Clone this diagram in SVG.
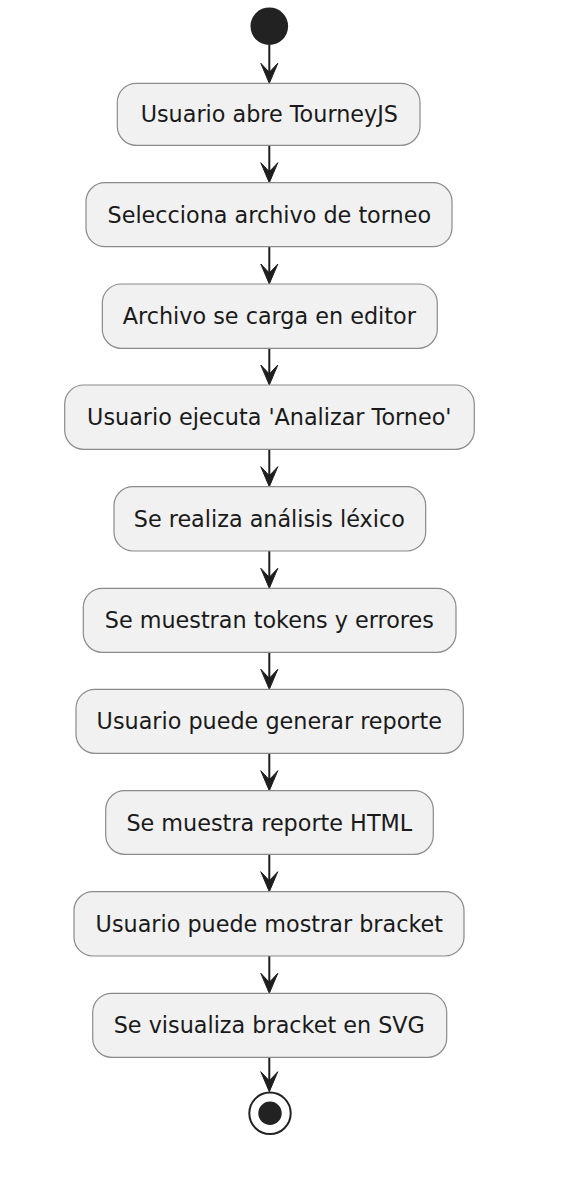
<svg xmlns="http://www.w3.org/2000/svg" xmlns:xlink="http://www.w3.org/1999/xlink" width="561" height="1188" viewBox="0 0 561 1188">
<style>
.box{fill:#F1F1F1;stroke:#8a8a8a;stroke-width:1.2}
.lbl{font-family:"DejaVu Sans","Liberation Sans",sans-serif;font-size:22.3px;fill:#1a1a1a;text-anchor:middle}
.ln{stroke:#1e1e1e;stroke-width:2;fill:none}
.ah{fill:#1e1e1e;stroke:#1e1e1e;stroke-width:1}
</style>
<defs>
<path id="ah" class="ah" d="M-8.5,-20 L0,0 L8.5,-20 L0,-11 Z"/>
</defs>
<rect width="561" height="1188" fill="#ffffff"/>
<g id="start"><circle cx="269.3" cy="26.2" r="18.8" fill="#222222"/></g>
<g id="connectors">
<line class="ln" x1="269.3" y1="45" x2="269.3" y2="80"/><use xlink:href="#ah" x="269.3" y="83.3"/>
<line class="ln" x1="269.3" y1="145.3" x2="269.3" y2="179"/><use xlink:href="#ah" x="269.3" y="182.7"/>
<line class="ln" x1="269.3" y1="246.7" x2="269.3" y2="280"/><use xlink:href="#ah" x="269.3" y="284"/>
<line class="ln" x1="269.3" y1="348.3" x2="269.3" y2="381"/><use xlink:href="#ah" x="269.3" y="385"/>
<line class="ln" x1="269.3" y1="449.3" x2="269.3" y2="483"/><use xlink:href="#ah" x="269.3" y="486.7"/>
<line class="ln" x1="269.3" y1="551" x2="269.3" y2="584"/><use xlink:href="#ah" x="269.3" y="588.3"/>
<line class="ln" x1="269.3" y1="652.3" x2="269.3" y2="685"/><use xlink:href="#ah" x="269.3" y="689.3"/>
<line class="ln" x1="269.3" y1="753.3" x2="269.3" y2="787"/><use xlink:href="#ah" x="269.3" y="790.7"/>
<line class="ln" x1="269.3" y1="854.3" x2="269.3" y2="888"/><use xlink:href="#ah" x="269.3" y="891.7"/>
<line class="ln" x1="269.3" y1="956" x2="269.3" y2="989"/><use xlink:href="#ah" x="269.3" y="993.3"/>
<line class="ln" x1="269.3" y1="1057.3" x2="269.3" y2="1088"/><use xlink:href="#ah" x="269.3" y="1091.7"/>
</g>
<g id="n1"><rect class="box" x="117.3" y="83.3" width="302.7" height="62" rx="19"/><text class="lbl" x="269.3" y="122.3">Usuario abre TourneyJS</text></g>
<g id="n2"><rect class="box" x="86" y="182.7" width="366" height="64" rx="19"/><text class="lbl" x="269.3" y="222.7">Selecciona archivo de torneo</text></g>
<g id="n3"><rect class="box" x="102.3" y="284" width="335" height="64.3" rx="19"/><text class="lbl" x="269.3" y="324.2">Archivo se carga en editor</text></g>
<g id="n4"><rect class="box" x="64.7" y="385" width="409.6" height="64.3" rx="19"/><text class="lbl" x="269.3" y="425.2">Usuario ejecuta 'Analizar Torneo'</text></g>
<g id="n5"><rect class="box" x="114" y="486.7" width="311.7" height="64.3" rx="19"/><text class="lbl" x="269.3" y="526.9">Se realiza análisis léxico</text></g>
<g id="n6"><rect class="box" x="83.3" y="588.3" width="372.7" height="64" rx="19"/><text class="lbl" x="269.3" y="628.3">Se muestran tokens y errores</text></g>
<g id="n7"><rect class="box" x="76" y="689.3" width="387.3" height="64" rx="19"/><text class="lbl" x="269.3" y="729.3">Usuario puede generar reporte</text></g>
<g id="n8"><rect class="box" x="105.7" y="790.7" width="327.6" height="63.6" rx="19"/><text class="lbl" x="269.3" y="830.5">Se muestra reporte HTML</text></g>
<g id="n9"><rect class="box" x="74" y="891.7" width="390" height="64.3" rx="19"/><text class="lbl" x="269.3" y="931.9">Usuario puede mostrar bracket</text></g>
<g id="n10"><rect class="box" x="92.7" y="993.3" width="354" height="64" rx="19"/><text class="lbl" x="269.3" y="1033.3">Se visualiza bracket en SVG</text></g>
<g id="end"><circle cx="270" cy="1113.3" r="20.7" fill="#ffffff" stroke="#222222" stroke-width="2"/><circle cx="270" cy="1113.3" r="11.7" fill="#222222"/></g>
</svg>
